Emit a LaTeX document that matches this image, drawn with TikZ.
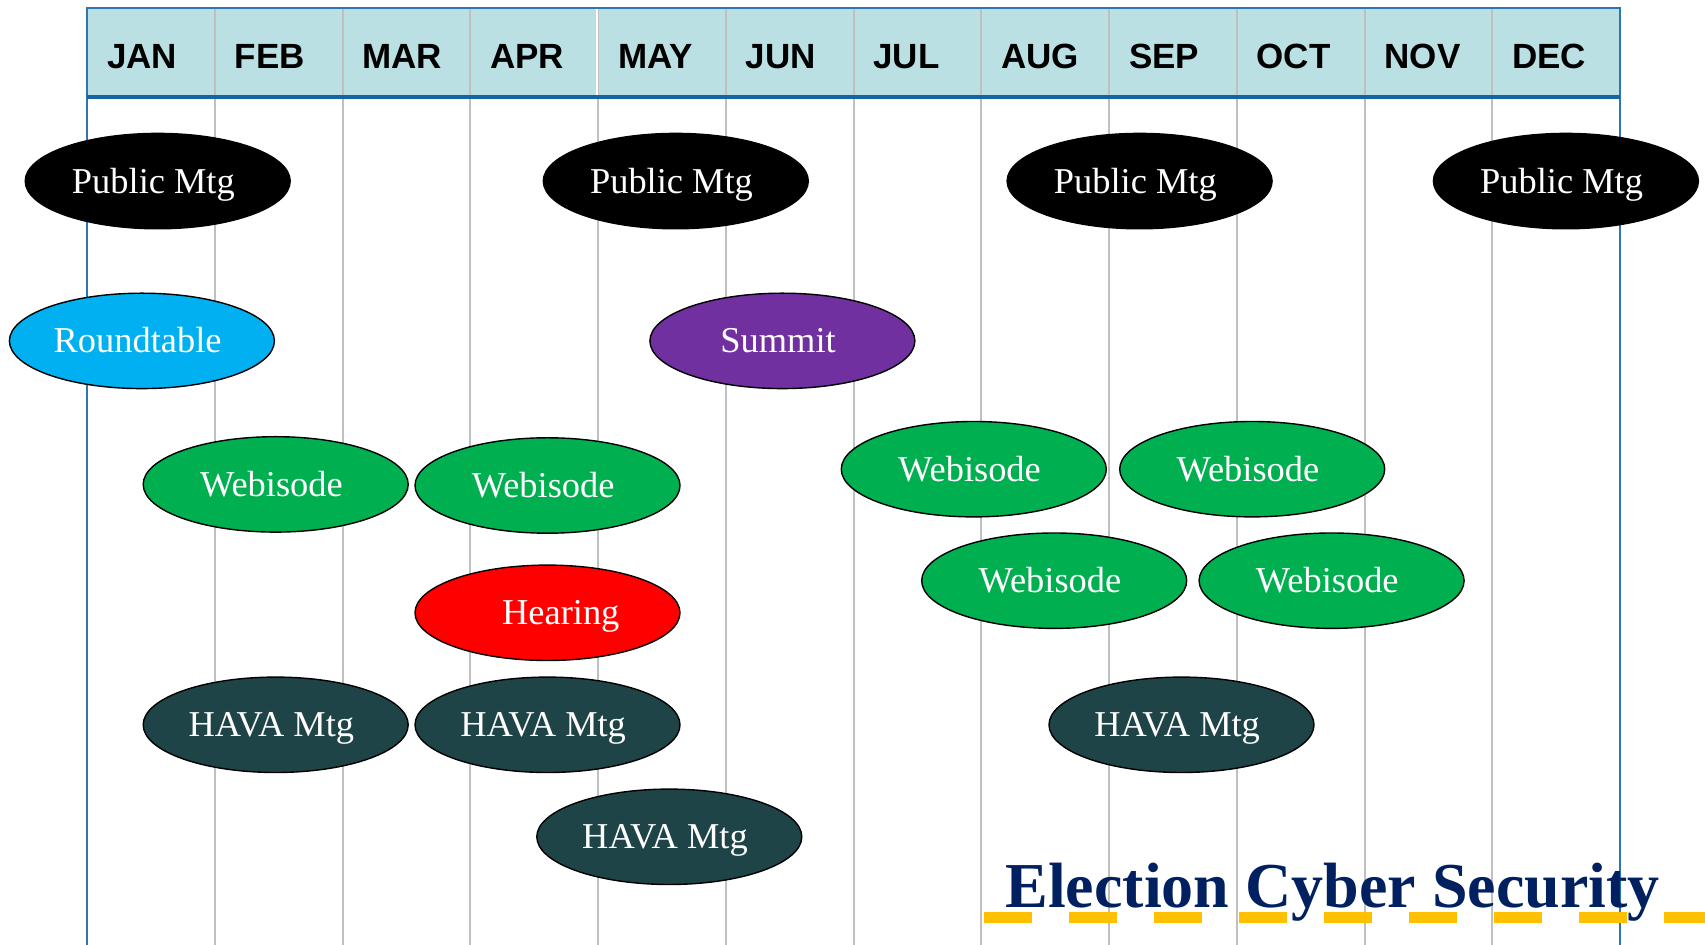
\documentclass[tikz,border=0pt]{standalone}
\usepackage{fontspec}
\setmainfont{Liberation Serif}
\newfontfamily\hdrfont{Liberation Sans}
\usetikzlibrary{shapes.geometric}
\definecolor{hdrfill}{HTML}{BBE0E3}
\definecolor{hdrline}{HTML}{1565A3}
\definecolor{edgeblue}{HTML}{2E75B6}
\definecolor{gridgray}{HTML}{C0C0C0}
\definecolor{evgreen}{HTML}{00B050}
\definecolor{evcyan}{HTML}{00B0F0}
\definecolor{evpurple}{HTML}{7030A0}
\definecolor{evred}{HTML}{FF0000}
\definecolor{evteal}{HTML}{1F4447}
\definecolor{navy}{HTML}{002060}
\definecolor{gold}{HTML}{FFC000}
\newcommand{\evtxt}[1]{#1\hspace*{4.3pt}}
\begin{document}
\begin{tikzpicture}[x=0.5pt,y=-0.5pt,
  event/.style={ellipse, draw=black, line width=0.7pt, minimum width=132.5pt,
    minimum height=47.7pt, inner sep=0pt, text=white, text height=12pt, text depth=0pt,
    font=\fontsize{18.2}{20}\selectfont},
  pubmtg/.style={event, fill=black},
  roundt/.style={event, fill=evcyan},
  summit/.style={event, fill=evpurple},
  webis/.style={event, fill=evgreen},
  hearing/.style={event, fill=evred},
  hava/.style={event, fill=evteal},
  gridline/.style={draw=gridgray, line width=1pt},
  month/.style={anchor=base west, inner sep=0pt, text=black,
    font=\hdrfont\bfseries\fontsize{17.5}{20}\selectfont}]
\useasboundingbox (0,0) rectangle (1705,945);
\fill[white] (0,0) rectangle (1705,945);
% header band
\fill[hdrfill] (87,8) rectangle (1620,97);
% month grid lines
\foreach \i in {1,...,11}
  \draw[gridline] ({87+127.75*\i},8) -- ({87+127.75*\i},945);
\draw[white, line width=1.2pt] ({87+127.75*4-1},8) -- ({87+127.75*4-1},95);
% header borders
\draw[edgeblue, line width=0.6pt] (87,945) -- (87,8) -- (1620,8) -- (1620,945);
\draw[hdrline, line width=2pt] (87,97) -- (1620,97);
% month labels
\foreach \m [count=\i from 0] in {JAN,FEB,MAR,APR,MAY,JUN,JUL,AUG,SEP,OCT,NOV,DEC}
  \node[month] (m\i) at ({87+127.75*\i+19.6},68.5) {\m};
% events
\node[pubmtg] (pm1) at (157.7,181.1) {\evtxt{Public Mtg}};
\node[pubmtg] (pm2) at (675.8,181.1) {\evtxt{Public Mtg}};
\node[pubmtg] (pm3) at (1139.6,181.1) {\evtxt{Public Mtg}};
\node[pubmtg] (pm4) at (1565.9,181.1) {\evtxt{Public Mtg}};
\node[roundt] (rt) at (141.9,340.9) {\evtxt{Roundtable}};
\node[summit] (sm) at (782.4,340.9) {\evtxt{Summit}};
\node[webis] (w1) at (275.7,484.4) {\evtxt{Webisode}};
\node[webis] (w2) at (547.5,485.5) {\evtxt{Webisode}};
\node[webis] (w3) at (973.8,469.2) {\evtxt{Webisode}};
\node[webis] (w4) at (1252.2,469.2) {\evtxt{Webisode}};
\node[webis] (w5) at (1054.2,580.7) {\evtxt{Webisode}};
\node[webis] (w6) at (1331.6,580.7) {\evtxt{Webisode}};
\node[hearing] (hr) at (547.5,612.8) {\hspace*{13.3pt}Hearing};
\node[hava] (h1) at (275.7,724.8) {\evtxt{HAVA Mtg}};
\node[hava] (h2) at (547.5,724.8) {\evtxt{HAVA Mtg}};
\node[hava] (h3) at (1181.5,724.8) {\evtxt{HAVA Mtg}};
\node[hava] (h4) at (669.3,836.8) {\evtxt{HAVA Mtg}};
% title
\foreach \k in {0,...,8}
  \fill[gold] ({984+85*\k},912) rectangle ({min(984+85*\k+48,1705)},923);
\node[anchor=base west, inner sep=0pt, text=navy,
  font=\bfseries\fontsize{32}{36}\selectfont] (title) at (1005,908) {Election Cyber Security};
\end{tikzpicture}
\end{document}
